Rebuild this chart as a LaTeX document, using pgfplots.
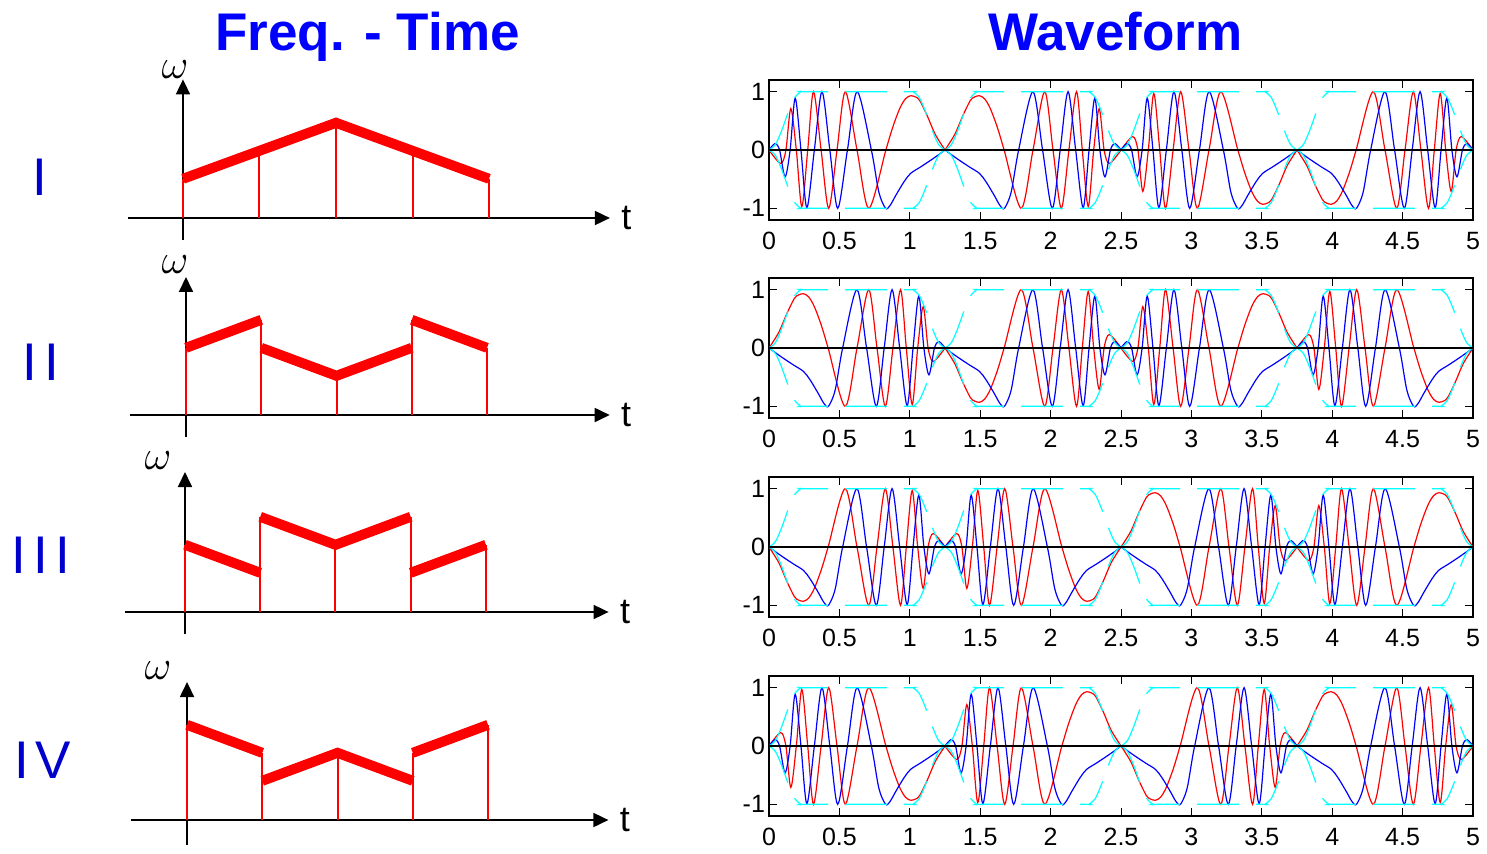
\documentclass[border=0pt]{standalone}
\usepackage{fontspec}
\setmainfont{Liberation Sans}
\usepackage{pgfplots}
\usepackage{pgfplotstable}
\pgfplotsset{compat=1.18}
\usetikzlibrary{arrows.meta}

\definecolor{numblue}{RGB}{0,0,204}
\definecolor{wcyan}{RGB}{0,255,255}

% ---------- envelope of every 1.25 s burst (upper / lower) ----------
\pgfplotstableread{
t up lo
0 0 0
0.046 0.095 -0.095
0.092 0.345 -0.345
0.138 0.655 -0.655
0.184 0.905 -0.905
0.23 1 -1
0.26 1 -1
0.99 1 -1
1.02 1 -1
1.066 0.905 -0.905
1.112 0.655 -0.655
1.158 0.345 -0.345
1.204 0.095 -0.095
1.25 0 0
nan nan nan
1.25 0 0
1.296 0.095 -0.095
1.342 0.345 -0.345
1.388 0.655 -0.655
1.434 0.905 -0.905
1.48 1 -1
1.51 1 -1
2.24 1 -1
2.27 1 -1
2.316 0.905 -0.905
2.362 0.655 -0.655
2.408 0.345 -0.345
2.454 0.095 -0.095
2.5 0 0
nan nan nan
2.5 0 0
2.546 0.095 -0.095
2.592 0.345 -0.345
2.638 0.655 -0.655
2.684 0.905 -0.905
2.73 1 -1
2.76 1 -1
3.49 1 -1
3.52 1 -1
3.566 0.905 -0.905
3.612 0.655 -0.655
3.658 0.345 -0.345
3.704 0.095 -0.095
3.75 0 0
nan nan nan
3.75 0 0
3.796 0.095 -0.095
3.842 0.345 -0.345
3.888 0.655 -0.655
3.934 0.905 -0.905
3.98 1 -1
4.01 1 -1
4.74 1 -1
4.77 1 -1
4.816 0.905 -0.905
4.862 0.655 -0.655
4.908 0.345 -0.345
4.954 0.095 -0.095
5 0 0
}\Env

% ---------- waveform I ----------
\pgfplotstableread{
t v
0 0
0.083 -0.23
0.12 0
0.155 0.71
0.194 0
0.233 -0.97
0.275 0
0.316 1
0.37 0
0.424 -1
0.483 0
0.542 1
0.625 0
0.709 -1
0.83 0
0.88 0.40
0.93 0.72
0.97 0.88
1.006 0.93
1.04 0.91
1.07 0.85
1.125 0.58
1.18 0.27
1.25 0
nan nan
1.25 0
1.32 0.27
1.375 0.58
1.43 0.85
1.46 0.91
1.494 0.93
1.53 0.88
1.57 0.72
1.62 0.40
1.67 0
1.791 -1
1.875 0
1.958 1
2.017 0
2.076 -1
2.13 0
2.184 1
2.225 0
2.267 -0.97
2.306 0
2.345 0.71
2.38 0
2.417 -0.23
2.5 0
nan nan
2.5 0
2.583 0.23
2.62 0
2.655 -0.71
2.694 0
2.733 0.97
2.775 0
2.816 -1
2.87 0
2.924 1
2.983 0
3.042 -1
3.125 0
3.209 1
3.33 0
3.38 -0.40
3.43 -0.72
3.47 -0.88
3.506 -0.93
3.54 -0.91
3.57 -0.85
3.625 -0.58
3.68 -0.27
3.75 0
nan nan
3.75 0
3.82 -0.27
3.875 -0.58
3.93 -0.85
3.96 -0.91
3.994 -0.93
4.03 -0.88
4.07 -0.72
4.12 -0.40
4.17 0
4.291 1
4.375 0
4.458 -1
4.517 0
4.576 1
4.63 0
4.684 -1
4.725 0
4.767 0.97
4.806 0
4.845 -0.71
4.88 0
4.917 0.23
5 0
}\RedI

\pgfplotstableread{
t v
0 0
0.043 0.11
0.075 0
0.114 -0.46
0.15 0
0.186 0.89
0.227 0
0.269 -0.99
0.322 0
0.376 1
0.432 0
0.488 -1
0.557 0
0.626 1
0.727 0
0.78 -0.72
0.828 -1
0.86 -0.95
0.9 -0.78
0.96 -0.54
1.006 -0.4
1.077 -0.29
1.17 -0.14
1.25 0
nan nan
1.25 0
1.33 -0.14
1.423 -0.29
1.494 -0.4
1.54 -0.54
1.6 -0.78
1.64 -0.95
1.672 -1
1.72 -0.72
1.773 0
1.874 1
1.943 0
2.012 -1
2.068 0
2.124 1
2.178 0
2.231 -0.99
2.273 0
2.314 0.89
2.35 0
2.386 -0.46
2.425 0
2.457 0.11
2.5 0
nan nan
2.5 0
2.543 0.11
2.575 0
2.614 -0.46
2.65 0
2.686 0.89
2.727 0
2.769 -0.99
2.822 0
2.876 1
2.932 0
2.988 -1
3.057 0
3.126 1
3.227 0
3.28 -0.72
3.328 -1
3.36 -0.95
3.4 -0.78
3.46 -0.54
3.506 -0.4
3.577 -0.29
3.67 -0.14
3.75 0
nan nan
3.75 0
3.83 -0.14
3.923 -0.29
3.994 -0.4
4.04 -0.54
4.1 -0.78
4.14 -0.95
4.172 -1
4.22 -0.72
4.273 0
4.374 1
4.443 0
4.512 -1
4.568 0
4.624 1
4.678 0
4.731 -0.99
4.773 0
4.814 0.89
4.85 0
4.886 -0.46
4.925 0
4.957 0.11
5 0
}\BlueI

% ---------- waveform II ----------
\pgfplotstableread{
t v
0 0
0.07 0.27
0.125 0.58
0.18 0.85
0.21 0.91
0.244 0.93
0.28 0.88
0.32 0.72
0.37 0.40
0.42 0
0.541 -1
0.625 0
0.708 1
0.767 0
0.826 -1
0.88 0
0.934 1
0.975 0
1.017 -0.97
1.056 0
1.095 0.71
1.13 0
1.167 -0.23
1.25 0
nan nan
1.25 0
1.32 -0.27
1.375 -0.58
1.43 -0.85
1.46 -0.91
1.494 -0.93
1.53 -0.88
1.57 -0.72
1.62 -0.40
1.67 0
1.791 1
1.875 0
1.958 -1
2.017 0
2.076 1
2.13 0
2.184 -1
2.225 0
2.267 0.97
2.306 0
2.345 -0.71
2.38 0
2.417 0.23
2.5 0
nan nan
2.5 0
2.583 -0.23
2.62 0
2.655 0.71
2.694 0
2.733 -0.97
2.775 0
2.816 1
2.87 0
2.924 -1
2.983 0
3.042 1
3.125 0
3.209 -1
3.33 0
3.38 0.40
3.43 0.72
3.47 0.88
3.506 0.93
3.54 0.91
3.57 0.85
3.625 0.58
3.68 0.27
3.75 0
nan nan
3.75 0
3.833 0.23
3.87 0
3.905 -0.71
3.944 0
3.983 0.97
4.025 0
4.066 -1
4.12 0
4.174 1
4.233 0
4.292 -1
4.375 0
4.459 1
4.58 0
4.63 -0.40
4.68 -0.72
4.72 -0.88
4.756 -0.93
4.79 -0.91
4.82 -0.85
4.875 -0.58
4.93 -0.27
5 0
}\RedII

\pgfplotstableread{
t v
0 0
0.08 -0.14
0.173 -0.29
0.244 -0.4
0.29 -0.54
0.35 -0.78
0.39 -0.95
0.422 -1
0.47 -0.72
0.523 0
0.624 1
0.693 0
0.762 -1
0.818 0
0.874 1
0.928 0
0.981 -0.99
1.023 0
1.064 0.89
1.1 0
1.136 -0.46
1.175 0
1.207 0.11
1.25 0
nan nan
1.25 0
1.33 -0.14
1.423 -0.29
1.494 -0.4
1.54 -0.54
1.6 -0.78
1.64 -0.95
1.672 -1
1.72 -0.72
1.773 0
1.874 1
1.943 0
2.012 -1
2.068 0
2.124 1
2.178 0
2.231 -0.99
2.273 0
2.314 0.89
2.35 0
2.386 -0.46
2.425 0
2.457 0.11
2.5 0
nan nan
2.5 0
2.543 0.11
2.575 0
2.614 -0.46
2.65 0
2.686 0.89
2.727 0
2.769 -0.99
2.822 0
2.876 1
2.932 0
2.988 -1
3.057 0
3.126 1
3.227 0
3.28 -0.72
3.328 -1
3.36 -0.95
3.4 -0.78
3.46 -0.54
3.506 -0.4
3.577 -0.29
3.67 -0.14
3.75 0
nan nan
3.75 0
3.793 0.11
3.825 0
3.864 -0.46
3.9 0
3.936 0.89
3.977 0
4.019 -0.99
4.072 0
4.126 1
4.182 0
4.238 -1
4.307 0
4.376 1
4.477 0
4.53 -0.72
4.578 -1
4.61 -0.95
4.65 -0.78
4.71 -0.54
4.756 -0.4
4.827 -0.29
4.92 -0.14
5 0
}\BlueII

% ---------- waveform III ----------
\pgfplotstableread{
t v
0 0
0.07 -0.27
0.125 -0.58
0.18 -0.85
0.21 -0.91
0.244 -0.93
0.28 -0.88
0.32 -0.72
0.37 -0.40
0.42 0
0.541 1
0.625 0
0.708 -1
0.767 0
0.826 1
0.88 0
0.934 -1
0.975 0
1.017 0.97
1.056 0
1.095 -0.71
1.13 0
1.167 0.23
1.25 0
nan nan
1.25 0
1.333 0.23
1.37 0
1.405 -0.71
1.444 0
1.483 0.97
1.525 0
1.566 -1
1.62 0
1.674 1
1.733 0
1.792 -1
1.875 0
1.959 1
2.08 0
2.13 -0.40
2.18 -0.72
2.22 -0.88
2.256 -0.93
2.29 -0.91
2.32 -0.85
2.375 -0.58
2.43 -0.27
2.5 0
nan nan
2.5 0
2.57 0.27
2.625 0.58
2.68 0.85
2.71 0.91
2.744 0.93
2.78 0.88
2.82 0.72
2.87 0.40
2.92 0
3.041 -1
3.125 0
3.208 1
3.267 0
3.326 -1
3.38 0
3.434 1
3.475 0
3.517 -0.97
3.556 0
3.595 0.71
3.63 0
3.667 -0.23
3.75 0
nan nan
3.75 0
3.833 -0.23
3.87 0
3.905 0.71
3.944 0
3.983 -0.97
4.025 0
4.066 1
4.12 0
4.174 -1
4.233 0
4.292 1
4.375 0
4.459 -1
4.58 0
4.63 0.40
4.68 0.72
4.72 0.88
4.756 0.93
4.79 0.91
4.82 0.85
4.875 0.58
4.93 0.27
5 0
}\RedIII

\pgfplotstableread{
t v
0 0
0.08 -0.14
0.173 -0.29
0.244 -0.4
0.29 -0.54
0.35 -0.78
0.39 -0.95
0.422 -1
0.47 -0.72
0.523 0
0.624 1
0.693 0
0.762 -1
0.818 0
0.874 1
0.928 0
0.981 -0.99
1.023 0
1.064 0.89
1.1 0
1.136 -0.46
1.175 0
1.207 0.11
1.25 0
nan nan
1.25 0
1.293 0.11
1.325 0
1.364 -0.46
1.4 0
1.436 0.89
1.477 0
1.519 -0.99
1.572 0
1.626 1
1.682 0
1.738 -1
1.807 0
1.876 1
1.977 0
2.03 -0.72
2.078 -1
2.11 -0.95
2.15 -0.78
2.21 -0.54
2.256 -0.4
2.327 -0.29
2.42 -0.14
2.5 0
nan nan
2.5 0
2.58 -0.14
2.673 -0.29
2.744 -0.4
2.79 -0.54
2.85 -0.78
2.89 -0.95
2.922 -1
2.97 -0.72
3.023 0
3.124 1
3.193 0
3.262 -1
3.318 0
3.374 1
3.428 0
3.481 -0.99
3.523 0
3.564 0.89
3.6 0
3.636 -0.46
3.675 0
3.707 0.11
3.75 0
nan nan
3.75 0
3.793 0.11
3.825 0
3.864 -0.46
3.9 0
3.936 0.89
3.977 0
4.019 -0.99
4.072 0
4.126 1
4.182 0
4.238 -1
4.307 0
4.376 1
4.477 0
4.53 -0.72
4.578 -1
4.61 -0.95
4.65 -0.78
4.71 -0.54
4.756 -0.4
4.827 -0.29
4.92 -0.14
5 0
}\BlueIII

% ---------- waveform IV ----------
\pgfplotstableread{
t v
0 0
0.083 0.23
0.12 0
0.155 -0.71
0.194 0
0.233 0.97
0.275 0
0.316 -1
0.37 0
0.424 1
0.483 0
0.542 -1
0.625 0
0.709 1
0.83 0
0.88 -0.40
0.93 -0.72
0.97 -0.88
1.006 -0.93
1.04 -0.91
1.07 -0.85
1.125 -0.58
1.18 -0.27
1.25 0
nan nan
1.25 0
1.333 -0.23
1.37 0
1.405 0.71
1.444 0
1.483 -0.97
1.525 0
1.566 1
1.62 0
1.674 -1
1.733 0
1.792 1
1.875 0
1.959 -1
2.08 0
2.13 0.40
2.18 0.72
2.22 0.88
2.256 0.93
2.29 0.91
2.32 0.85
2.375 0.58
2.43 0.27
2.5 0
nan nan
2.5 0
2.57 -0.27
2.625 -0.58
2.68 -0.85
2.71 -0.91
2.744 -0.93
2.78 -0.88
2.82 -0.72
2.87 -0.40
2.92 0
3.041 1
3.125 0
3.208 -1
3.267 0
3.326 1
3.38 0
3.434 -1
3.475 0
3.517 0.97
3.556 0
3.595 -0.71
3.63 0
3.667 0.23
3.75 0
nan nan
3.75 0
3.82 0.27
3.875 0.58
3.93 0.85
3.96 0.91
3.994 0.93
4.03 0.88
4.07 0.72
4.12 0.40
4.17 0
4.291 -1
4.375 0
4.458 1
4.517 0
4.576 -1
4.63 0
4.684 1
4.725 0
4.767 -0.97
4.806 0
4.845 0.71
4.88 0
4.917 -0.23
5 0
}\RedIV

\pgfplotstableread{
t v
0 0
0.043 0.11
0.075 0
0.114 -0.46
0.15 0
0.186 0.89
0.227 0
0.269 -0.99
0.322 0
0.376 1
0.432 0
0.488 -1
0.557 0
0.626 1
0.727 0
0.78 -0.72
0.828 -1
0.86 -0.95
0.9 -0.78
0.96 -0.54
1.006 -0.4
1.077 -0.29
1.17 -0.14
1.25 0
nan nan
1.25 0
1.293 0.11
1.325 0
1.364 -0.46
1.4 0
1.436 0.89
1.477 0
1.519 -0.99
1.572 0
1.626 1
1.682 0
1.738 -1
1.807 0
1.876 1
1.977 0
2.03 -0.72
2.078 -1
2.11 -0.95
2.15 -0.78
2.21 -0.54
2.256 -0.4
2.327 -0.29
2.42 -0.14
2.5 0
nan nan
2.5 0
2.58 -0.14
2.673 -0.29
2.744 -0.4
2.79 -0.54
2.85 -0.78
2.89 -0.95
2.922 -1
2.97 -0.72
3.023 0
3.124 1
3.193 0
3.262 -1
3.318 0
3.374 1
3.428 0
3.481 -0.99
3.523 0
3.564 0.89
3.6 0
3.636 -0.46
3.675 0
3.707 0.11
3.75 0
nan nan
3.75 0
3.83 -0.14
3.923 -0.29
3.994 -0.4
4.04 -0.54
4.1 -0.78
4.14 -0.95
4.172 -1
4.22 -0.72
4.273 0
4.374 1
4.443 0
4.512 -1
4.568 0
4.624 1
4.678 0
4.731 -0.99
4.773 0
4.814 0.89
4.85 0
4.886 -0.46
4.925 0
4.957 0.11
5 0
}\BlueIV

\pgfplotsset{
  ftdiag/.style={
    scale only axis, anchor=south west,
    axis lines=middle,
    axis line style={black, line width=0.9pt, -{Triangle[length=7.5pt,width=7pt]}},
    xtick=\empty, ytick=\empty,
    clip=false,
  },
  wavebox/.style={
    scale only axis, anchor=south west, width=352pt, height=70pt,
    xmin=0, xmax=5, ymin=-1.2, ymax=1.2,
    xtick={0,0.5,1,1.5,2,2.5,3,3.5,4,4.5,5},
    xticklabels={0,0.5,1,1.5,2,2.5,3,3.5,4,4.5,5},
    ytick={-1,0,1}, yticklabels={-1,0,1},
    tick align=inside, major tick length=4pt,
    tick style={black, line width=0.5pt},
    axis line style={line width=0.8pt},
    tick label style={font=\fontsize{12.5pt}{14pt}\selectfont},
    xticklabel style={yshift=-2.5pt},
    yticklabel style={xshift=1.5pt},
    unbounded coords=jump,
  },
  redw/.style={red, line width=0.6pt, smooth},
  bluew/.style={blue, line width=0.6pt, smooth},
  envw/.style={wcyan, line width=0.6pt, smooth, dash pattern=on 21pt off 8.5pt},
  comb/.style={ycomb, red, line width=1pt, mark=none},
  band/.style={red, line width=5pt, line join=miter, line cap=butt},
}

\newcommand{\tlabel}[1]{\node[anchor=west, inner sep=0pt, xshift=5.5pt,
  font=\fontsize{18pt}{20pt}\selectfont] at (axis cs:#1,0) {t};}
\newcommand{\wlabel}[3]{\node[inner sep=0pt, xshift=#2, yshift=#3,
  font=\fontsize{20pt}{22pt}\selectfont] at (axis cs:0,#1) {$\omega$};}
\newcommand{\numeral}[2]{\node[text=numblue, inner sep=0pt,
  font=\fontsize{26.5pt}{30pt}\selectfont] at #1 {#2};}

\begin{document}
\begin{tikzpicture}
\useasboundingbox (0pt,0pt) rectangle (743.5pt,426.5pt);

% titles
\node[anchor=base, text=blue, inner sep=0pt,
  font=\fontsize{26.5pt}{30pt}\selectfont\bfseries] at (183.75pt,401.2pt) {Freq. - Time};
\node[anchor=base, text=blue, inner sep=0pt,
  font=\fontsize{26.5pt}{30pt}\selectfont\bfseries] at (557.75pt,401.2pt) {Waveform};

% row numerals
\numeral{(20pt,338pt)}{I}
\numeral{(20.5pt,245.5pt)}{I\hspace{3.7pt}I}
\numeral{(20.5pt,149pt)}{I\hspace{3.7pt}I\hspace{3.7pt}I}
\numeral{(21.5pt,46.5pt)}{I\hspace{3.2pt}V}

% ---------------- frequency-time sketches ----------------
\begin{axis}[ftdiag, at={(63.95pt,306.3pt)}, width=241pt, height=80.5pt,
  xmin=-0.72, xmax=5.58, ymin=-0.8, ymax=4.95]
  \addplot[comb] coordinates {(0,1.4) (1,2.4) (2,3.4) (3,2.4) (4,1.4)};
  \addplot[band] coordinates {(0,1.4) (2,3.4) (4,1.4)};
  \tlabel{5.58}
  \wlabel{4.95}{-4pt}{5pt}
\end{axis}

\begin{axis}[ftdiag, at={(65.15pt,207.8pt)}, width=239.7pt, height=80.2pt,
  xmin=-0.74, xmax=5.63, ymin=-0.8, ymax=4.93]
  \addplot[comb] coordinates {(0,2.4) (1,3.4) (2,1.4) (3,3.4) (4,2.4)};
  \addplot[band] coordinates {(0,2.4) (1,3.4)};
  \addplot[band] coordinates {(1,2.4) (2,1.4) (3,2.4)};
  \addplot[band] coordinates {(3,3.4) (4,2.4)};
  \tlabel{5.63}
  \wlabel{4.93}{-5.5pt}{6pt}
\end{axis}

\begin{axis}[ftdiag, at={(62.4pt,109.3pt)}, width=241.9pt, height=81.2pt,
  xmin=-0.8, xmax=5.63, ymin=-0.8, ymax=5.0]
  \addplot[comb] coordinates {(0,2.4) (1,3.4) (2,2.4) (3,3.4) (4,2.4)};
  \addplot[band] coordinates {(0,2.4) (1,1.4)};
  \addplot[band] coordinates {(1,3.4) (2,2.4) (3,3.4)};
  \addplot[band] coordinates {(3,1.4) (4,2.4)};
  \tlabel{5.63}
  \wlabel{5.0}{-13.5pt}{5.5pt}
\end{axis}

\begin{axis}[ftdiag, at={(65.3pt,3.9pt)}, width=238.9pt, height=81.6pt,
  xmin=-0.75, xmax=5.6, ymin=-0.9, ymax=4.93]
  \addplot[comb] coordinates {(0,3.4) (1,2.4) (2,2.4) (3,2.4) (4,3.4)};
  \addplot[band] coordinates {(0,3.4) (1,2.4)};
  \addplot[band] coordinates {(1,1.4) (2,2.4) (3,1.4)};
  \addplot[band] coordinates {(3,2.4) (4,3.4)};
  \tlabel{5.6}
  \wlabel{4.93}{-14.5pt}{5.5pt}
\end{axis}

% ---------------- waveforms ----------------
\begin{axis}[wavebox, at={(384.5pt,316.5pt)}]
  \addplot[redw] table[x=t,y=v] {\RedI};
  \addplot[bluew] table[x=t,y=v] {\BlueI};
  \addplot[envw] table[x=t,y=up] {\Env};
  \addplot[envw] table[x=t,y=lo] {\Env};
  \addplot[black, line width=1pt] coordinates {(0,0) (5,0)};
\end{axis}

\begin{axis}[wavebox, at={(384.5pt,217.5pt)}]
  \addplot[redw] table[x=t,y=v] {\RedII};
  \addplot[bluew] table[x=t,y=v] {\BlueII};
  \addplot[envw] table[x=t,y=up] {\Env};
  \addplot[envw] table[x=t,y=lo] {\Env};
  \addplot[black, line width=1pt] coordinates {(0,0) (5,0)};
\end{axis}

\begin{axis}[wavebox, at={(384.5pt,118pt)}]
  \addplot[redw] table[x=t,y=v] {\RedIII};
  \addplot[bluew] table[x=t,y=v] {\BlueIII};
  \addplot[envw] table[x=t,y=up] {\Env};
  \addplot[envw] table[x=t,y=lo] {\Env};
  \addplot[black, line width=1pt] coordinates {(0,0) (5,0)};
\end{axis}

\begin{axis}[wavebox, at={(384.5pt,18.5pt)}]
  \addplot[redw] table[x=t,y=v] {\RedIV};
  \addplot[bluew] table[x=t,y=v] {\BlueIV};
  \addplot[envw] table[x=t,y=up] {\Env};
  \addplot[envw] table[x=t,y=lo] {\Env};
  \addplot[black, line width=1pt] coordinates {(0,0) (5,0)};
\end{axis}

\end{tikzpicture}
\end{document}
